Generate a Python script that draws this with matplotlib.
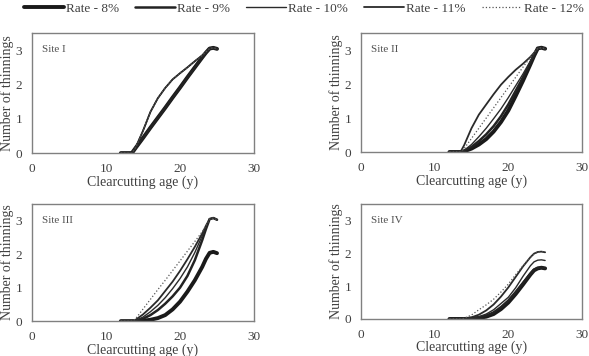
import matplotlib
matplotlib.use("Agg")
import matplotlib.pyplot as plt

plt.rcParams['font.family'] = ['Liberation Serif', 'DejaVu Serif']

# clearcutting ages (x) shared by all curves
ages = [12, 13, 13.5, 14, 15, 16, 17, 18, 19, 20, 21, 22, 23, 23.5, 24, 24.5, 25]

rates = ['Rate - 8%', 'Rate - 9%', 'Rate - 10%', 'Rate - 11%', 'Rate - 12%']
sites = ['Site I', 'Site II', 'Site III', 'Site IV']

# number of thinnings, one list per rate (8%, 9%, 10%, 11%, 12%)
site1 = [
    [0, 0, 0, 0.15, 0.44, 0.74, 1.03, 1.32, 1.62, 1.91, 2.21, 2.50, 2.79, 2.93, 3.05, 3.07, 3.04],
    [0, 0, 0, 0.15, 0.44, 0.74, 1.03, 1.32, 1.62, 1.91, 2.21, 2.50, 2.79, 2.93, 3.05, 3.07, 3.04],
    [0, 0, 0, 0.16, 0.65, 1.20, 1.60, 1.90, 2.15, 2.33, 2.50, 2.68, 2.85, 2.95, 3.05, 3.07, 3.04],
    [0, 0, 0, 0.16, 0.65, 1.20, 1.60, 1.90, 2.15, 2.33, 2.50, 2.68, 2.85, 2.95, 3.05, 3.07, 3.04],
    [0, 0, 0, 0.16, 0.65, 1.20, 1.60, 1.90, 2.15, 2.33, 2.50, 2.68, 2.85, 2.95, 3.05, 3.07, 3.04],
]
site2 = [
    [0, 0, 0, 0.02, 0.10, 0.22, 0.38, 0.60, 0.88, 1.22, 1.65, 2.10, 2.58, 2.83, 3.05, 3.07, 3.04],
    [0, 0, 0, 0.03, 0.15, 0.32, 0.52, 0.76, 1.05, 1.40, 1.80, 2.20, 2.62, 2.85, 3.05, 3.07, 3.04],
    [0, 0, 0, 0.05, 0.22, 0.45, 0.70, 0.98, 1.27, 1.60, 1.95, 2.30, 2.68, 2.88, 3.05, 3.07, 3.04],
    [0, 0, 0, 0.20, 0.70, 1.10, 1.40, 1.70, 1.98, 2.21, 2.42, 2.60, 2.80, 2.92, 3.05, 3.07, 3.04],
    [0, 0, 0, 0.10, 0.40, 0.70, 1.00, 1.30, 1.60, 1.90, 2.20, 2.50, 2.79, 2.93, 3.05, 3.07, 3.04],
]
site3 = [
    [0, 0, 0, 0, 0.01, 0.04, 0.09, 0.18, 0.35, 0.58, 0.88, 1.22, 1.62, 1.86, 2.04, 2.07, 2.03],
    [0, 0, 0, 0.01, 0.07, 0.18, 0.33, 0.52, 0.74, 1.00, 1.35, 1.82, 2.42, 2.75, 3.05, 3.08, 3.03],
    [0, 0, 0, 0.02, 0.12, 0.28, 0.47, 0.70, 0.97, 1.27, 1.62, 2.05, 2.55, 2.80, 3.05, 3.08, 3.03],
    [0, 0, 0, 0.04, 0.20, 0.40, 0.62, 0.90, 1.18, 1.50, 1.85, 2.22, 2.62, 2.85, 3.05, 3.08, 3.03],
    [0, 0, 0, 0.07, 0.36, 0.65, 0.94, 1.22, 1.51, 1.80, 2.09, 2.38, 2.67, 2.85, 3.05, 3.08, 3.03],
]
site4 = [
    [0, 0, 0, 0, 0.01, 0.03, 0.07, 0.15, 0.30, 0.50, 0.76, 1.05, 1.35, 1.48, 1.54, 1.56, 1.54],
    [0, 0, 0, 0, 0.01, 0.04, 0.10, 0.20, 0.36, 0.56, 0.82, 1.10, 1.38, 1.50, 1.55, 1.56, 1.54],
    [0, 0, 0, 0, 0.02, 0.07, 0.15, 0.28, 0.47, 0.66, 0.95, 1.30, 1.62, 1.74, 1.79, 1.80, 1.78],
    [0, 0, 0, 0.01, 0.05, 0.13, 0.26, 0.44, 0.68, 0.96, 1.28, 1.60, 1.88, 1.99, 2.04, 2.05, 2.03],
    [0, 0, 0, 0.02, 0.12, 0.28, 0.43, 0.60, 0.82, 1.06, 1.35, 1.62, 1.88, 1.98, 2.04, 2.05, 2.03],
]
site_data = [site1, site2, site3, site4]

# line style per rate
widths = [2.8, 1.8, 1.0, 1.3, 0.9]
styles = ['-', '-', '-', '-', ':']
colors = ['#1a1a1a', '#222222', '#2a2a2a', '#2a2a2a', '#555555']

fig = plt.figure(figsize=(5.89, 3.56), dpi=100)
positions = [[0.0543, 0.570, 0.377, 0.337],
             [0.613, 0.573, 0.375, 0.334],
             [0.0543, 0.098, 0.377, 0.329],
             [0.613, 0.104, 0.375, 0.323]]

handles = []
for k in range(4):
    ax = fig.add_axes(positions[k])
    for r in range(5):
        ln, = ax.plot(ages, site_data[k][r], color=colors[r], lw=widths[r],
                      ls=styles[r], solid_capstyle='round', solid_joinstyle='round')
        if k == 0:
            handles.append(ln)
    ax.set_xlim(0, 30)
    ax.set_ylim(0, 3.5)
    ax.set_xticks([0, 10, 20, 30])
    ax.set_yticks([0, 1, 2, 3])
    ax.tick_params(length=0, pad=7, labelsize=9.5, colors='#404040')
    for s in ax.spines.values():
        s.set_color('#808080')
        s.set_linewidth(1.0)
    ax.text(0.045, 0.86, sites[k], transform=ax.transAxes, fontsize=8,
            color='#505050', va='center', ha='left')
    ax.set_xlabel('Clearcutting age (y)', fontsize=10, color='#404040')
    ax.set_ylabel('Number of thinnings', fontsize=10, color='#404040')
    ax.xaxis.set_label_coords(0.5, -0.19)
    ax.yaxis.set_label_coords(-0.08, 0.5)

fig.legend(handles, rates, loc='center', bbox_to_anchor=(0.516, 0.975), ncol=5,
           frameon=False, fontsize=9.5, handlelength=3.0, handletextpad=0.2,
           columnspacing=1.2, labelcolor='#404040')

fig.savefig('out.png', dpi=100)
